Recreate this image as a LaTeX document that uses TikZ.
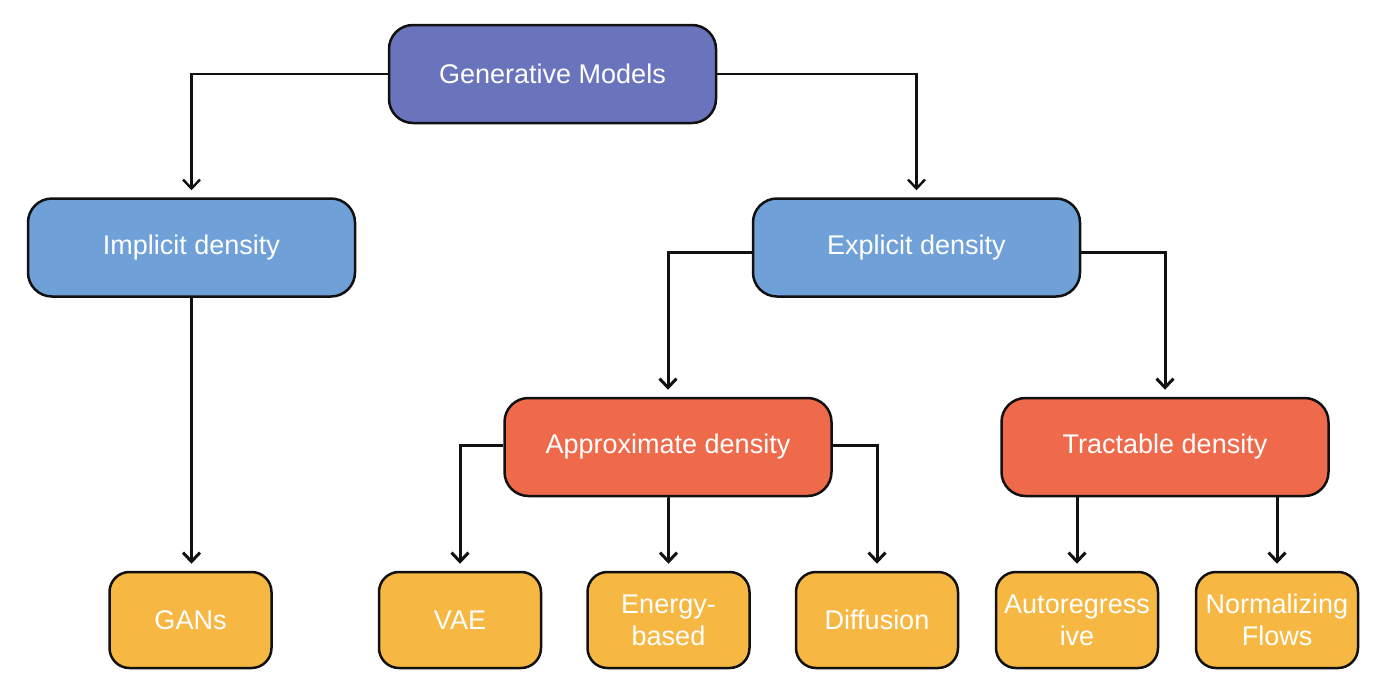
\documentclass[tikz,border=0pt]{standalone}
\usepackage{fontspec}
\setmainfont{Liberation Sans}
\usetikzlibrary{arrows.meta}
\definecolor{pu}{HTML}{6A74BD}
\definecolor{bl}{HTML}{6FA0D8}
\definecolor{re}{HTML}{EF6A4B}
\definecolor{ye}{HTML}{F6B843}
\definecolor{ln}{HTML}{111111}

\begin{document}
\begin{tikzpicture}[x=1pt, y=-1pt,
  box/.style={draw=ln, line width=2.5pt, rounded corners=24pt, text=white,
    font=\fontsize{27}{32}\selectfont, align=center, inner sep=0pt,
    minimum width=327pt, minimum height=98pt},
  leaf/.style={box, fill=ye, rounded corners=20pt, minimum width=162pt, minimum height=96pt},
  conn/.style={draw=ln, line width=3pt, -{Straight Barb[length=9pt, width=17pt]}, shorten >=7pt}]

  \useasboundingbox (0,0) rectangle (1379,697);

  \node[box, fill=pu] (gen) at (552.5,74) {Generative Models};
  \node[box, fill=bl] (impl) at (191.5,247.5) {Implicit density};
  \node[box, fill=bl] (expl) at (916.5,247.5) {Explicit density};
  \node[box, fill=re] (appr) at (668,447) {Approximate density};
  \node[box, fill=re] (trac) at (1165,447) {Tractable density};

  \node[leaf] (gans) at (190.5,620) {GANs};
  \node[leaf] (vae) at (460,620) {VAE};
  \node[leaf] (ener) at (668.5,620) {Energy-\\based};
  \node[leaf] (diff) at (877,620) {Diffusion};
  \node[leaf] (auto) at (1077,620) {Autoregress\\ive};
  \node[leaf] (norm) at (1277,620) {Normalizing\\Flows};

  \draw[conn, line width=2.4pt] (gen.west) -| (impl.north);
  \draw[conn, line width=2.4pt] (gen.east) -| (expl.north);
  \draw[conn] (impl.south) -- (impl.south |- gans.north);

  \draw[conn] ([yshift=-5pt]expl.west) -| (appr.north);
  \draw[conn] ([yshift=-5pt]expl.east) -| (trac.north);

  \draw[conn] ([yshift=2pt]appr.west) -| (vae.north);
  \draw[conn] (appr.south) -- (appr.south -| ener.north) -- (ener.north);
  \draw[conn] ([yshift=2pt]appr.east) -| (diff.north);

  \draw[conn] (trac.south -| auto.north) -- (auto.north);
  \draw[conn] (trac.south -| norm.north) -- (norm.north);

\end{tikzpicture}
\end{document}
